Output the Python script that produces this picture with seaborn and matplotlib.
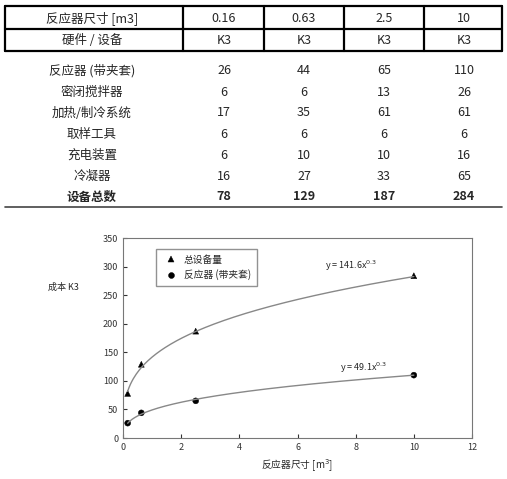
import numpy as np
import pandas as pd
import matplotlib
matplotlib.use("Agg")
import matplotlib.pyplot as plt
import seaborn as sns

sns.set_style("white")
plt.rcParams['font.family'] = ['Noto Sans CJK SC', 'DejaVu Sans']

sizes = [0.16, 0.63, 2.5, 10]
size_labels = ["0.16", "0.63", "2.5", "10"]
row_names = ["反应器 (带夹套)", "密闭搅拌器", "加热/制冷系统", "取样工具", "充电装置", "冷凝器"]
reactor = [26, 44, 65, 110]
stirrer = [6, 6, 13, 26]
heating = [17, 35, 61, 61]
sampling = [6, 6, 6, 6]
charging = [6, 10, 10, 16]
condenser = [16, 27, 33, 65]
total = [78, 129, 187, 284]
coef_total, exp_total = 141.6, 0.3
coef_reactor, exp_reactor = 49.1, 0.35

W, H = 507, 479
fig = plt.figure(figsize=(W/100, H/100), dpi=100)

def fx(px): return px / W
def fy(py): return 1 - py / H

lw = 1.6
for y in (6, 29, 51):
    fig.add_artist(plt.Line2D([fx(5), fx(502)], [fy(y), fy(y)], color='black', lw=lw))
for x in (5, 183, 264, 344, 424, 502):
    fig.add_artist(plt.Line2D([fx(x), fx(x)], [fy(6), fy(51)], color='black', lw=lw))
fig.add_artist(plt.Line2D([fx(5), fx(502)], [fy(207), fy(207)], color='#444444', lw=1.2))

col_x = [92, 224, 304, 384, 464]
fs = 9
fig.text(fx(col_x[0]), fy(18), "反应器尺寸 [m3]", ha='center', va='center', fontsize=fs)
for cx, lab in zip(col_x[1:], size_labels):
    fig.text(fx(cx), fy(18), lab, ha='center', va='center', fontsize=fs)
fig.text(fx(col_x[0]), fy(40), "硬件 / 设备", ha='center', va='center', fontsize=fs)
for cx in col_x[1:]:
    fig.text(fx(cx), fy(40), "K3", ha='center', va='center', fontsize=fs)

rows = [reactor, stirrer, heating, sampling, charging, condenser]
row_y = [71, 92, 113, 134, 155, 176]
for name, vals, ry in zip(row_names, rows, row_y):
    fig.text(fx(col_x[0]), fy(ry), name, ha='center', va='center', fontsize=fs)
    for cx, v in zip(col_x[1:], vals):
        fig.text(fx(cx), fy(ry), str(v), ha='center', va='center', fontsize=fs)
fig.text(fx(col_x[0]), fy(197), "设备总数", ha='center', va='center', fontsize=fs, fontweight='bold')
for cx, v in zip(col_x[1:], total):
    fig.text(fx(cx), fy(197), str(v), ha='center', va='center', fontsize=fs, fontweight='bold')

ax = fig.add_axes([fx(123), fy(438), fx(472) - fx(123), fy(238) - fy(438)])
xs = np.linspace(0.16, 10, 200)
sns.lineplot(x=xs, y=coef_total * xs**exp_total, ax=ax, color='#888888', lw=1)
sns.lineplot(x=xs, y=coef_reactor * xs**exp_reactor, ax=ax, color='#888888', lw=1)
df = pd.DataFrame({"x": sizes * 2, "y": total + reactor,
                   "s": ["总设备量"] * 4 + ["反应器 (带夹套)"] * 4})
sns.scatterplot(data=df, x="x", y="y", style="s", markers={"总设备量": "^", "反应器 (带夹套)": "o"},
                color='black', s=18, ax=ax, edgecolor='black')
ax.set_xlim(0, 12)
ax.set_ylim(0, 350)
ax.set_xticks([0, 2, 4, 6, 8, 10, 12])
ax.set_yticks(range(0, 351, 50))
ax.tick_params(labelsize=6.5, length=3, direction='in', left=True, bottom=True, colors='#333333')
for s in ax.spines.values():
    s.set_color('#777777'); s.set_linewidth(0.8)
ax.set_xlabel("反应器尺寸 [m$^3$]", fontsize=7)
ax.set_ylabel("成本 K3", fontsize=6.5, rotation=0, labelpad=18)
ax.yaxis.set_label_coords(-0.17, 0.73)
ax.legend(title=None, loc='upper left', bbox_to_anchor=(0.08, 0.97), fontsize=7,
          frameon=True, fancybox=False, edgecolor='#777777', handletextpad=0.3, borderpad=0.6)
ax.text(6.95, 296, "y = 141.6x$^{0.3}$", fontsize=6.5)
ax.text(7.45, 117, "y = 49.1x$^{0.3}$", fontsize=6.5)

fig.savefig("out.png", dpi=100)
